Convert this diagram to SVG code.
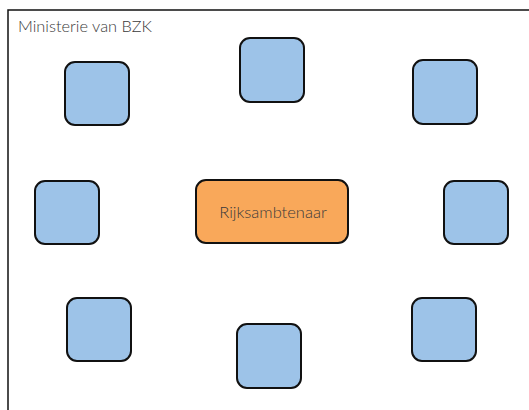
<svg xmlns="http://www.w3.org/2000/svg" width="529" height="410" viewBox="0 0 529 410">
<style>
.frame{fill:#fff;stroke:#111;stroke-width:1.5}
.blue{fill:#9DC3E8;stroke:#111;stroke-width:2}
.orange{fill:#F9A85A;stroke:#111;stroke-width:2}
.t{font-family:Lato,"Open Sans","Liberation Sans",sans-serif;fill:#3a3a3a;font-weight:300}
</style>
<rect width="529" height="410" fill="#fff"/>
<g id="frame">
<rect class="frame" x="8" y="10" width="540" height="420"/>
<text class="t" x="18" y="32" font-size="16" textLength="134" lengthAdjust="spacingAndGlyphs">Ministerie van BZK</text>
</g>
<g id="connectors"></g>
<g id="n1"><rect class="blue" x="65" y="62" width="64" height="63" rx="10"/></g>
<g id="n2"><rect class="blue" x="240" y="38" width="64" height="64" rx="10"/></g>
<g id="n3"><rect class="blue" x="413" y="60" width="64" height="64" rx="10"/></g>
<g id="n4"><rect class="blue" x="35" y="181" width="64" height="63" rx="10"/></g>
<g id="center"><rect class="orange" x="196" y="180" width="152" height="63" rx="10"/>
<text class="t" x="273" y="218" font-size="16.5" text-anchor="middle">Rijksambtenaar</text></g>
<g id="n5"><rect class="blue" x="444" y="181" width="64" height="63" rx="10"/></g>
<g id="n6"><rect class="blue" x="67" y="298" width="64" height="63" rx="10"/></g>
<g id="n7"><rect class="blue" x="237" y="324" width="64" height="64" rx="10"/></g>
<g id="n8"><rect class="blue" x="412" y="298" width="64" height="63" rx="10"/></g>
</svg>
